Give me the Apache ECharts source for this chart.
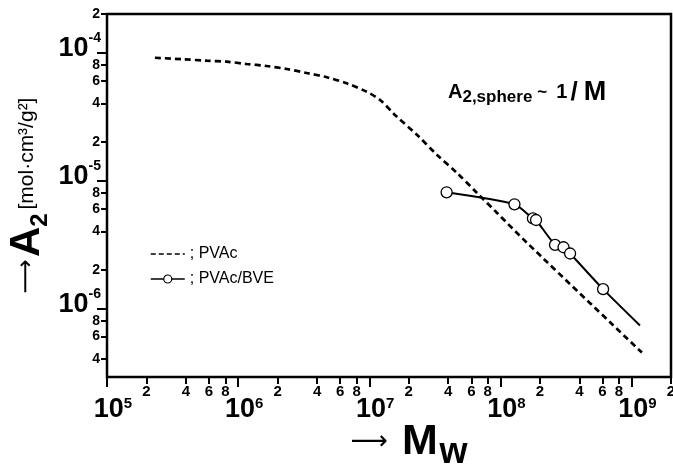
<!DOCTYPE html>
<html><head><meta charset="utf-8">
<script src="https://cdn.jsdelivr.net/npm/echarts@6/dist/echarts.min.js"></script>
<style>html,body{margin:0;padding:0;background:#fff}#c{width:673px;height:471px}</style>
</head><body><div id="c"></div>
<script>
// ---- axis ranges & ticks ----
const xMin = 1e5, xMax = 2e9;
const yMin = 2.9e-7, yMax = 2e-4;
const xMinorTicks  = [2e5,4e5,6e5,8e5, 2e6,4e6,6e6,8e6, 2e7,4e7,6e7,8e7, 2e8,4e8,6e8,8e8, 2e9];
const xMinorLabels = ['2','4','6','8','2','4','6','8','2','4','6','8','2','4','6','8','2'];
const xMajorTicks  = [1e5,1e6,1e7,1e8,1e9];
const xMajorExp    = ['5','6','7','8','9'];
const yMinorTicks  = [4e-7,6e-7,8e-7, 2e-6,4e-6,6e-6,8e-6, 2e-5,4e-5,6e-5,8e-5, 2e-4];
const yMinorLabels = ['4','6','8','2','4','6','8','2','4','6','8','2'];
const yMajorTicks  = [1e-6,1e-5,1e-4];
const yMajorExp    = ['-6','-5','-4'];

// ---- data ----
const pvacM = [2.32e5,3.82e5,5.75e5,8.18e5,1.16e6,1.65e6,2.35e6,3.34e6,4.74e6,6.73e6,9.57e6,1.21e7,1.57e7,2.32e7,3.29e7,4.68e7,6.64e7,9.44e7,1.60e8,1.20e9];
const pvacA = [9.1e-5,8.85e-5,8.63e-5,8.48e-5,8.13e-5,7.84e-5,7.43e-5,6.91e-5,6.40e-5,5.74e-5,4.93e-5,4.25e-5,3.25e-5,2.26e-5,1.58e-5,1.14e-5,7.97e-6,5.56e-6,3.24e-6,4.50e-7];
const bveM = [3.89e7,1.28e8,1.77e8,1.87e8,2.61e8,3.03e8,3.40e8,6.07e8];
const bveA = [8.07e-6,6.50e-6,5.04e-6,4.90e-6,3.13e-6,3.00e-6,2.68e-6,1.41e-6];
const bveLineEnd = [1.16e9, 7.33e-7];

const L = Math.log10;
function lookup(vals, labels){
  return function(v){
    for (let i=0;i<vals.length;i++){ if (Math.abs(L(vals[i])-v) < 1e-6) return labels[i]; }
    return '';
  };
}
const fMinX = lookup(xMinorTicks, xMinorLabels);
const fMajX = lookup(xMajorTicks, xMajorExp);
const fMinY = lookup(yMinorTicks, yMinorLabels);
const fMajY = lookup(yMajorTicks, yMajorExp);

const SANS = "'Liberation Sans',Arial,sans-serif";
const tickStyle = {color:'#000', width:2};

const chart = echarts.init(document.getElementById('c'), null, {renderer:'canvas'});
chart.setOption({
  animation:false,
  backgroundColor:'#fff',
  title:{
    text:'{A|A}{s|2,sphere}{t|~}{o|1}{sl|/}{M|M}',
    left:443, top:74,
    textStyle:{
      rich:{
        A:{fontFamily:SANS, fontWeight:'bold', fontSize:20, color:'#000', lineHeight:24},
        s:{fontFamily:SANS, fontWeight:'bold', fontSize:17, color:'#000', verticalAlign:'bottom', lineHeight:16},
        t:{fontFamily:SANS, fontWeight:'bold', fontSize:17, color:'#000', padding:[0,9,0,5]},
        o:{fontFamily:SANS, fontWeight:'bold', fontSize:20, color:'#000'},
        sl:{fontFamily:SANS, fontSize:26, color:'#000', padding:[0,6,0,3]},
        M:{fontFamily:SANS, fontWeight:'bold', fontSize:27, color:'#000'}
      }
    }
  },
  legend:{
    left:145, top:241, orient:'vertical', itemGap:9, itemWidth:34, itemHeight:10,
    formatter: n => '; ' + n,
    textStyle:{fontFamily:SANS, fontSize:16, color:'#000'},
    data:[
      {name:'PVAc', lineStyle:{width:1.5, type:[5,3], color:'#000'}, itemStyle:{opacity:0}},
      {name:'PVAc/BVE', lineStyle:{width:1.5, color:'#000'}, itemStyle:{color:'#fff', borderColor:'#000', borderWidth:1.2}}
    ]
  },
  grid:{left:107, right:2, top:14, bottom:94, show:true, borderColor:'#000', borderWidth:2.5,
        containLabel:false, outerBoundsMode:'none'},
  xAxis:[
    { type:'value', min:L(xMin), max:L(xMax), position:'bottom',
      axisLine:{show:false}, splitLine:{show:false},
      axisTick:{show:true, customValues:xMinorTicks.map(L), length:7, lineStyle:tickStyle},
      axisLabel:{customValues:xMinorTicks.map(L), formatter:fMinX, interval:0, margin:7, color:'#000',
                 fontFamily:SANS, fontWeight:'bold', fontSize:15},
      name:'{arr|⟶}{g| }{M|M}{g3| }{w|w}', nameLocation:'middle', nameGap:36, nameMoveOverlap:false,
      nameTextStyle:{padding:[0,0,0,40], rich:{
        arr:{fontFamily:'DejaVu Sans', fontSize:26, color:'#000'},
        g:{fontSize:52},
        g3:{fontSize:6},
        M:{fontFamily:SANS, fontWeight:'bold', fontSize:43, lineHeight:58, color:'#000'},
        w:{fontFamily:SANS, fontWeight:'bold', fontSize:36, lineHeight:28, verticalAlign:'bottom', color:'#000'}
      }}
    },
    { type:'value', min:L(xMin), max:L(xMax), position:'bottom',
      axisLine:{show:false}, splitLine:{show:false},
      axisTick:{show:true, customValues:xMajorTicks.map(L), length:10, lineStyle:tickStyle},
      axisLabel:{customValues:xMajorTicks.map(L), interval:0, margin:19, padding:[0,0,0,12],
                 formatter: v => '{b|10}{e|' + fMajX(v) + '}',
                 rich:{
                   b:{fontFamily:SANS, fontWeight:'bold', fontSize:27, lineHeight:28, color:'#000'},
                   e:{fontFamily:SANS, fontWeight:'bold', fontSize:15, lineHeight:15, verticalAlign:'top', color:'#000'}
                 }}
    }
  ],
  yAxis:[
    { type:'value', min:L(yMin), max:L(yMax), position:'left',
      axisLine:{show:false}, splitLine:{show:false},
      axisTick:{show:true, customValues:yMinorTicks.map(L), length:6, lineStyle:tickStyle},
      axisLabel:{customValues:yMinorTicks.map(L), formatter:fMinY, interval:0, margin:7, color:'#000',
                 fontFamily:SANS, fontWeight:'bold', fontSize:14}
    },
    { type:'value', min:L(yMin), max:L(yMax), position:'left',
      axisLine:{show:false}, splitLine:{show:false},
      axisTick:{show:true, customValues:yMajorTicks.map(L), length:10, lineStyle:tickStyle},
      axisLabel:{customValues:yMajorTicks.map(L), interval:0, margin:6, padding:[0,0,8,0],
                 formatter: v => '{b|10}{e|' + fMajY(v) + '}',
                 rich:{
                   b:{fontFamily:SANS, fontWeight:'bold', fontSize:27, lineHeight:34, color:'#000'},
                   e:{fontFamily:SANS, fontWeight:'bold', fontSize:14, lineHeight:14, verticalAlign:'top', color:'#000'}
                 }},
      name:'{arr|⟶}{g| }{A|A}{s|2}{g2| }{u|[mol·cm³/g²]}', nameLocation:'middle', nameGap:55, nameRotate:90,
      nameMoveOverlap:false,
      nameTextStyle:{rich:{
        arr:{fontFamily:'DejaVu Sans', fontSize:24, color:'#000'},
        g:{fontSize:7},
        A:{fontFamily:SANS, fontWeight:'bold', fontSize:42, lineHeight:50, color:'#000'},
        s:{fontFamily:SANS, fontWeight:'bold', fontSize:24, lineHeight:20, verticalAlign:'bottom', color:'#000'},
        g2:{fontSize:14},
        u:{fontFamily:SANS, fontSize:21, color:'#000'}
      }}
    }
  ],
  series:[
    { name:'PVAc', type:'line', xAxisIndex:0, yAxisIndex:0,
      data: pvacM.map((m,i)=>[L(m), L(pvacA[i])]),
      symbol:'none', smooth:0.3, color:'#000', lineStyle:{color:'#000', width:2.7, type:[6,4]}, z:2 },
    { name:'PVAc/BVE', type:'line', xAxisIndex:0, yAxisIndex:0,
      data: bveM.map((m,i)=>[L(m), L(bveA[i])]).concat([{value:[L(bveLineEnd[0]), L(bveLineEnd[1])], symbol:'none'}]),
      symbol:'circle', symbolSize:11, smooth:0.2,
      lineStyle:{color:'#000', width:2},
      itemStyle:{color:'#fff', borderColor:'#000', borderWidth:1.3}, z:3 }
  ]
});
</script></body></html>
